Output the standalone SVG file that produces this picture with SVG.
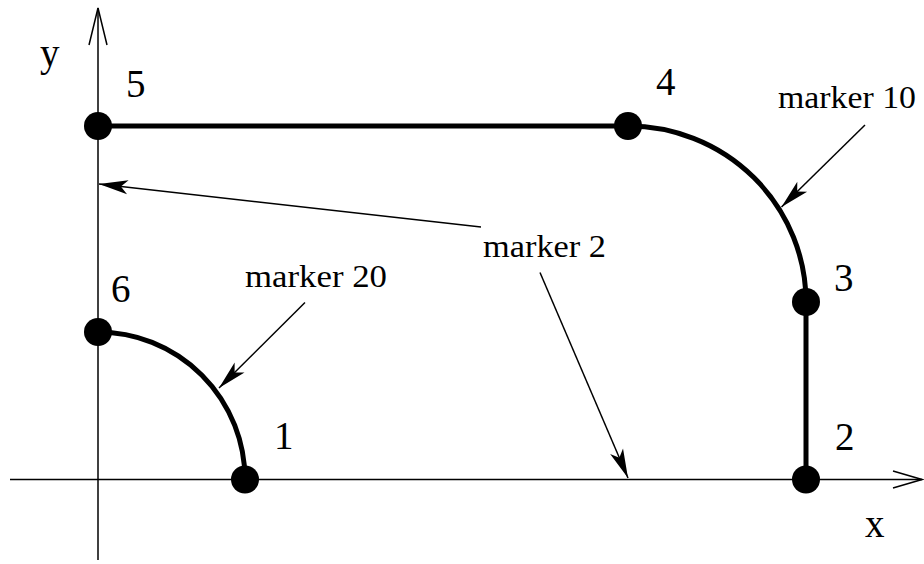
<svg xmlns="http://www.w3.org/2000/svg" width="924" height="564" viewBox="0 0 924 564">
<style>
.axis{stroke:#000;stroke-width:1.5;fill:none}
.thick{stroke:#000;stroke-width:5;fill:none}
.lead{stroke:#000;stroke-width:1.5;fill:none;marker-end:url(#arr)}
.dot{fill:#000}
.num{font-size:39px;fill:#000}
.lbl{font-size:32px;fill:#000}
</style>
<defs>
<marker id="arr" viewBox="-32 -9 34 18" markerWidth="34" markerHeight="18" refX="0" refY="0" orient="auto" markerUnits="userSpaceOnUse">
<path d="M0,0 L-29,-7 L-22,0 L-29,7 Z" fill="#000"/>
</marker>
</defs>
<g id="axes">
<line class="axis" x1="98" y1="560" x2="98" y2="8"/>
<polyline class="axis" points="89,45 98,8 107,45"/>
<line class="axis" x1="10" y1="479.5" x2="922" y2="479.5"/>
<polyline class="axis" points="893,471 922,479.5 893,488"/>
</g>
<g id="axis-labels" font-family="'Liberation Serif', 'Times New Roman', serif">
<text class="num" x="40" y="66">y</text>
<text class="num" x="865" y="537">x</text>
</g>
<g id="boundary">
<path class="thick" d="M98,126 L628,126 A178,176 0 0 1 806,302 L806,479.5"/>
<path class="thick" d="M98,332 A147,147.5 0 0 1 245,479.5"/>
</g>
<g font-family="'Liberation Serif', 'Times New Roman', serif">
<g id="p1"><circle class="dot" cx="245" cy="479.5" r="14"/><text class="num" x="274" y="449">1</text></g>
<g id="p2"><circle class="dot" cx="806" cy="479.5" r="14"/><text class="num" x="835" y="450">2</text></g>
<g id="p3"><circle class="dot" cx="806" cy="302" r="14"/><text class="num" x="834" y="291">3</text></g>
<g id="p4"><circle class="dot" cx="628" cy="126" r="14"/><text class="num" x="656" y="95">4</text></g>
<g id="p5"><circle class="dot" cx="98" cy="126" r="14"/><text class="num" x="126" y="97">5</text></g>
<g id="p6"><circle class="dot" cx="98" cy="332" r="14"/><text class="num" x="111" y="302">6</text></g>
</g>
<g id="labels" font-family="'Liberation Serif', 'Times New Roman', serif">
<text class="lbl" x="778" y="108" textLength="138" lengthAdjust="spacingAndGlyphs">marker 10</text>
<text class="lbl" x="483" y="257" textLength="123" lengthAdjust="spacingAndGlyphs">marker 2</text>
<text class="lbl" x="245" y="287" textLength="142" lengthAdjust="spacingAndGlyphs">marker 20</text>
</g>
<g id="connectors">
<line class="lead" x1="865" y1="125" x2="781.5" y2="207"/>
<line class="lead" x1="481" y1="227" x2="99" y2="184"/>
<line class="lead" x1="540" y1="272.5" x2="628" y2="478"/>
<line class="lead" x1="305" y1="302.5" x2="219" y2="388"/>
</g>
</svg>
